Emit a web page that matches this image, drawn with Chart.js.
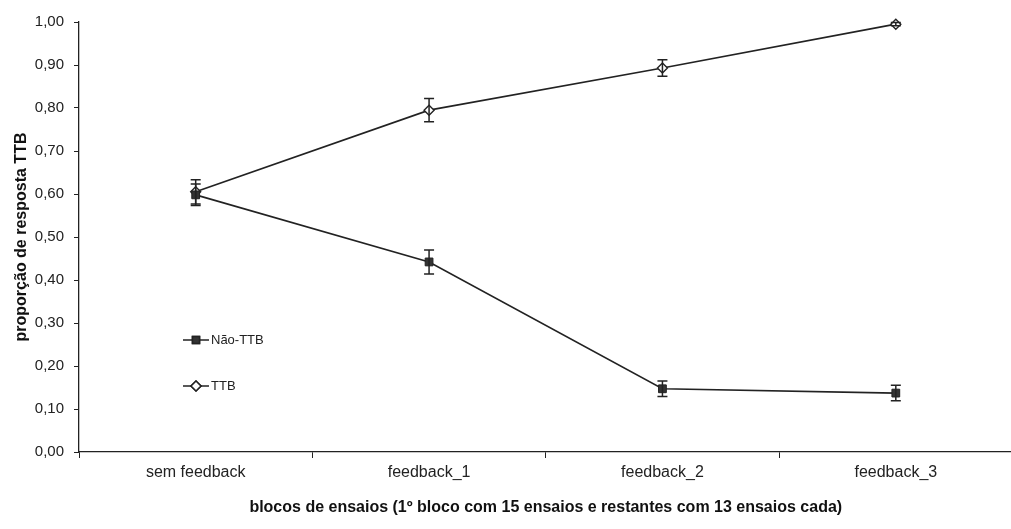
<!DOCTYPE html>
<html>
<head>
<meta charset="utf-8">
<script src="https://cdn.jsdelivr.net/npm/chart.js@4.4.1/dist/chart.umd.min.js"></script>
<style>
  html, body { margin: 0; padding: 0; background: #fff; overflow: hidden; }
  canvas { display: block; }
</style>
</head>
<body>
<canvas id="myChart" width="1019" height="529"></canvas>
<script>
// data
const categories = ["sem feedback", "feedback_1", "feedback_2", "feedback_3"];
const naoTTB = [0.598, 0.442, 0.147, 0.137];
const naoTTBErr = [0.025, 0.028, 0.018, 0.018];
const ttb = [0.605, 0.795, 0.893, 0.995];
const ttbErr = [0.028, 0.027, 0.019, 0.004];
const yTicks = [0, 0.1, 0.2, 0.3, 0.4, 0.5, 0.6, 0.7, 0.8, 0.9, 1.0];

const FONT = "'Liberation Sans', Arial, sans-serif";
const NARROW = "'Liberation Sans Narrow', 'Arial Narrow', 'Liberation Sans', sans-serif";
const INK = "#222";

// error bars, drawn with the chart's own scales
const errorBars = {
  id: "errorBars",
  afterDatasetsDraw(chart) {
    const ctx = chart.ctx;
    const x = chart.scales.x, y = chart.scales.y;
    const errs = [naoTTBErr, ttbErr];
    ctx.save();
    ctx.strokeStyle = INK;
    ctx.lineWidth = 1.5;
    chart.data.datasets.forEach((ds, i) => {
      ds.data.forEach((v, j) => {
        const px = x.getPixelForValue(j);
        const top = y.getPixelForValue(v + errs[i][j]);
        const bot = y.getPixelForValue(v - errs[i][j]);
        ctx.beginPath();
        ctx.moveTo(px, top); ctx.lineTo(px, bot);
        ctx.moveTo(px - 5, top); ctx.lineTo(px + 5, top);
        ctx.moveTo(px - 5, bot); ctx.lineTo(px + 5, bot);
        ctx.stroke();
      });
    });
    ctx.restore();
  }
};

// small legend inside the plot area, like the original
const insideLegend = {
  id: "insideLegend",
  afterDraw(chart) {
    const ctx = chart.ctx;
    const items = [
      { label: "Não-TTB", y: 340, ds: chart.data.datasets[0] },
      { label: "TTB", y: 386, ds: chart.data.datasets[1] }
    ];
    ctx.save();
    items.forEach(it => {
      ctx.strokeStyle = INK;
      ctx.lineWidth = 1.5;
      ctx.beginPath();
      ctx.moveTo(183, it.y); ctx.lineTo(209, it.y);
      ctx.stroke();
      Chart.helpers.drawPoint(ctx, {
        pointStyle: it.ds.pointStyle,
        radius: 5,
        borderWidth: 1.3
      }, 196, it.y);
      ctx.fillStyle = it.ds.pointBackgroundColor;
      ctx.strokeStyle = it.ds.pointBorderColor;
      ctx.fill();
      ctx.stroke();
      ctx.fillStyle = INK;
      ctx.font = "13px " + FONT;
      ctx.textBaseline = "middle";
      ctx.fillText(it.label, 211, it.y);
    });
    ctx.restore();
  }
};

const ctx = document.getElementById("myChart").getContext("2d");
new Chart(ctx, {
  type: "line",
  data: {
    labels: categories,
    datasets: [
      {
        label: "Não-TTB",
        data: naoTTB,
        borderColor: INK,
        borderWidth: 1.6,
        pointStyle: "rect",
        pointRadius: 5.5,
        pointBackgroundColor: "#333",
        pointBorderColor: "#222",
        pointBorderWidth: 1,
        tension: 0,
        clip: false
      },
      {
        label: "TTB",
        data: ttb,
        borderColor: INK,
        borderWidth: 1.6,
        pointStyle: "rectRot",
        pointRadius: 5,
        pointBackgroundColor: "#fff",
        pointBorderColor: "#222",
        pointBorderWidth: 1.4,
        tension: 0,
        clip: false
      }
    ]
  },
  options: {
    responsive: false,
    animation: false,
    layout: { padding: { top: 22, right: 0, left: 0, bottom: 0 } },
    plugins: {
      legend: { display: false },
      tooltip: { enabled: false }
    },
    scales: {
      x: {
        offset: true,
        grid: { offset: true, drawOnChartArea: false, drawTicks: true, tickLength: 6, color: INK, tickWidth: 1 },
        border: { color: INK, width: 1.3 },
        ticks: { color: INK, font: { family: NARROW, size: 16 }, padding: 5, maxRotation: 0 },
        title: {
          display: true,
          text: "blocos de ensaios (1º bloco com 15 ensaios e restantes com 13 ensaios cada)",
          color: "#111",
          font: { family: FONT, size: 16, weight: "bold" },
          padding: { top: 12, bottom: 12 }
        },
        afterFit(scale) { scale.height = 77; }
      },
      y: {
        min: 0,
        max: 1,
        afterBuildTicks(scale) { scale.ticks = yTicks.map(v => ({ value: v })); },
        grid: { drawOnChartArea: false, drawTicks: true, tickLength: 5, color: INK },
        border: { color: INK, width: 1.3 },
        ticks: {
          color: INK,
          font: { family: FONT, size: 15 },
          padding: 10,
          callback: v => v.toFixed(2).replace(".", ",")
        },
        title: {
          display: true,
          text: "proporção de resposta TTB",
          color: "#111",
          font: { family: FONT, size: 16, weight: "bold" },
          padding: { top: 12, bottom: 12 }
        },
        afterFit(scale) { scale.width = 79; }
      }
    }
  },
  plugins: [errorBars, insideLegend]
});
</script>
</body>
</html>
